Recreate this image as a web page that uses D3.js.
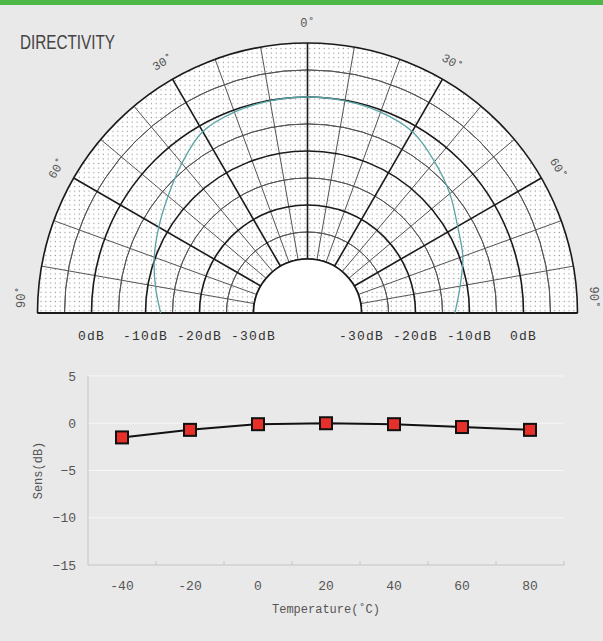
<!DOCTYPE html>
<html>
<head>
<meta charset="utf-8">
<script src="https://cdn.jsdelivr.net/npm/d3@7"></script>
<style>
  html, body { margin: 0; padding: 0; background: #e9e9e9; }
  svg { display: block; }
</style>
</head>
<body>
<svg id="chart" width="603" height="641"></svg>
<script>
// polar grid definition
var ringLevels = [-30, -20, -10, 0, 10],
    halfRingLevels = [-25, -15, -5, 5],
    dbLabels = ['0dB', '-10dB', '-20dB', '-30dB'],
    dbLabelLevels = [0, -10, -20, -30],
    angleLabels = [-90, -60, -30, 0, 30, 60, 90];

// directivity pattern (angle in degrees, level in dB)
var patternAngles = [-90, -80, -70, -60, -50, -40, -30, -20, -10, 0, 10, 20, 30, 40, 50, 60, 70, 80, 90],
    patternLevels = [-12.8, -11.4, -9.8, -8.2, -6.3, -3.8, -1.2, -0.4, -0.1, 0, -0.1, -0.4, -1.2, -3.4, -5.6, -7.9, -9.4, -11.3, -12.7];

// temperature characteristics
var temps = ['-40', '-20', '0', '20', '40', '60', '80'],
    sens = [-1.5, -0.7, -0.1, 0, -0.1, -0.4, -0.7],
    sensTicks = [5, 0, -5, -10, -15];

var svg = d3.select('#chart');

// green strip + title
svg.append('rect')
    .attr('x', 0).attr('y', 0)
    .attr('width', 603).attr('height', 5)
    .attr('fill', '#4db848');

svg.append('text')
    .attr('x', 20).attr('y', 49)
    .attr('font-family', '"Liberation Sans Narrow", "Liberation Sans", sans-serif')
    .attr('font-size', 20)
    .attr('fill', '#444')
    .attr('textLength', 95)
    .attr('lengthAdjust', 'spacingAndGlyphs')
    .text('DIRECTIVITY');

/*
 * Polar chart
 */
var cx = 307.5, cy = 313;
var rScale = d3.scaleLinear().domain([-30, 10]).range([54, 270]);
var rad = function(a) { return a * Math.PI / 180; };

var defs = svg.append('defs');
var pat = defs.append('pattern')
    .attr('id', 'dots')
    .attr('patternUnits', 'userSpaceOnUse')
    .attr('width', 4.8).attr('height', 4.6);
pat.append('rect')
    .attr('x', 1.7).attr('y', 1.7)
    .attr('width', 1.2).attr('height', 1.2)
    .attr('fill', '#9a9a9a');

var polar = svg.append('g').attr('transform', 'translate(' + cx + ',' + cy + ')');

var band = d3.arc()
    .innerRadius(rScale(-30))
    .outerRadius(rScale(10))
    .startAngle(-Math.PI / 2)
    .endAngle(Math.PI / 2);

polar.append('path').attr('d', band).attr('fill', '#fff');
polar.append('path').attr('d', band).attr('fill', 'url(#dots)');

var halfCircle = function(r) {
    return d3.arc()
        .innerRadius(r).outerRadius(r)
        .startAngle(-Math.PI / 2).endAngle(Math.PI / 2)();
};

// thin rings
polar.selectAll('.half-ring').data(halfRingLevels).enter()
  .append('path')
    .attr('d', function(d) { return halfCircle(rScale(d)); })
    .attr('fill', 'none')
    .attr('stroke', '#555')
    .attr('stroke-width', 1);

// radial lines every 10 degrees, heavier every 30
var spokes = d3.range(-90, 91, 10);
polar.selectAll('.spoke').data(spokes).enter()
  .append('line')
    .attr('x1', function(d) { return rScale(-30) * Math.sin(rad(d)); })
    .attr('y1', function(d) { return -rScale(-30) * Math.cos(rad(d)); })
    .attr('x2', function(d) { return rScale(10) * Math.sin(rad(d)); })
    .attr('y2', function(d) { return -rScale(10) * Math.cos(rad(d)); })
    .attr('stroke', function(d) { return d % 30 === 0 ? '#1a1a1a' : '#555'; })
    .attr('stroke-width', function(d) { return d % 30 === 0 ? 1.6 : 1; });

// main rings
polar.selectAll('.ring').data(ringLevels).enter()
  .append('path')
    .attr('d', function(d) { return halfCircle(rScale(d)); })
    .attr('fill', 'none')
    .attr('stroke', '#1a1a1a')
    .attr('stroke-width', 1.6);

// white core
polar.append('path')
    .attr('d', d3.arc().innerRadius(0).outerRadius(rScale(-30))
        .startAngle(-Math.PI / 2).endAngle(Math.PI / 2)())
    .attr('fill', '#fff')
    .attr('stroke', '#1a1a1a')
    .attr('stroke-width', 1.6);

// baseline
polar.append('line')
    .attr('x1', -rScale(10)).attr('x2', rScale(10))
    .attr('y1', 0).attr('y2', 0)
    .attr('stroke', '#1a1a1a')
    .attr('stroke-width', 2);

// directivity pattern
var patternLine = d3.lineRadial()
    .angle(function(d) { return rad(d[0]); })
    .radius(function(d) { return rScale(d[1]); })
    .curve(d3.curveCatmullRom);

polar.append('path')
    .datum(d3.zip(patternAngles, patternLevels))
    .attr('d', patternLine)
    .attr('fill', 'none')
    .attr('stroke', '#5aa3a6')
    .attr('stroke-width', 1.3);

// angle labels
polar.selectAll('.angle-label').data(angleLabels).enter()
  .append('text')
    .attr('transform', function(d) {
        var a = Math.abs(d) === 90 ? d * 0.965 : d,
            r = Math.abs(d) === 90 ? 287 : 290;
        return 'translate(' + (r * Math.sin(rad(a))) + ',' + (-r * Math.cos(rad(a))) + ') rotate(' + d + ')';
    })
    .attr('text-anchor', 'middle')
    .attr('dy', '0.35em')
    .attr('font-family', '"Liberation Mono", monospace')
    .attr('font-size', 12)
    .attr('fill', '#555')
    .text(function(d) { return Math.abs(d) + '˚'; });

// dB labels under each ring, both sides
var dbData = [];
dbLabelLevels.forEach(function(v, i) {
    dbData.push({label: dbLabels[i], x: -rScale(v)});
    dbData.push({label: dbLabels[i], x: rScale(v)});
});
polar.selectAll('.db-label').data(dbData).enter()
  .append('text')
    .attr('x', function(d) { return d.x; })
    .attr('y', 27)
    .attr('text-anchor', 'middle')
    .attr('font-family', '"Liberation Mono", monospace')
    .attr('font-size', 13)
    .attr('letter-spacing', 1.2)
    .attr('fill', '#333')
    .text(function(d) { return d.label; });

/*
 * Temperature chart
 */
var xScale = d3.scaleBand().domain(temps).range([88, 564]),
    yScale = d3.scaleLinear().domain([-15, 5]).range([565, 376]);

var plot = svg.append('g');

// gridlines
plot.selectAll('.grid').data(sensTicks.filter(function(d) { return d !== -15; })).enter()
  .append('line')
    .attr('x1', 88).attr('x2', 564)
    .attr('y1', yScale).attr('y2', yScale)
    .attr('stroke', '#f6f6f6')
    .attr('stroke-width', 1);

// axes
plot.append('line')
    .attr('x1', 88).attr('x2', 88)
    .attr('y1', yScale(5)).attr('y2', yScale(-15))
    .attr('stroke', '#c4c4c4');
plot.append('line')
    .attr('x1', 88).attr('x2', 564)
    .attr('y1', yScale(-15)).attr('y2', yScale(-15))
    .attr('stroke', '#c4c4c4');

// x tick marks at category boundaries
var bounds = temps.map(function(d) { return xScale(d) + xScale.bandwidth(); });
plot.selectAll('.xtick').data(bounds).enter()
  .append('line')
    .attr('x1', function(d) { return d; }).attr('x2', function(d) { return d; })
    .attr('y1', yScale(-15)).attr('y2', yScale(-15) - 4)
    .attr('stroke', '#c4c4c4');

// tick labels
plot.selectAll('.ylabel').data(sensTicks).enter()
  .append('text')
    .attr('x', 76)
    .attr('y', yScale)
    .attr('dy', '0.35em')
    .attr('text-anchor', 'end')
    .attr('font-family', '"Liberation Mono", monospace')
    .attr('font-size', 13)
    .attr('fill', '#555')
    .text(function(d) { return d < 0 ? '\u2212' + Math.abs(d) : d; });

plot.selectAll('.xlabel').data(temps).enter()
  .append('text')
    .attr('x', function(d) { return xScale(d) + xScale.bandwidth() / 2; })
    .attr('y', 590)
    .attr('text-anchor', 'middle')
    .attr('font-family', '"Liberation Mono", monospace')
    .attr('font-size', 13)
    .attr('fill', '#555')
    .text(function(d) { return d; });

plot.append('text')
    .attr('transform', 'translate(42,' + yScale(-5) + ') rotate(-90)')
    .attr('text-anchor', 'middle')
    .attr('font-family', '"Liberation Mono", monospace')
    .attr('font-size', 12)
    .attr('fill', '#555')
    .text('Sens(dB)');

plot.append('text')
    .attr('x', 326).attr('y', 613)
    .attr('text-anchor', 'middle')
    .attr('font-family', '"Liberation Mono", monospace')
    .attr('font-size', 12)
    .attr('fill', '#555')
    .text('Temperature(˚C)');

// data line + markers
var pts = d3.zip(temps, sens);
plot.append('path')
    .datum(pts)
    .attr('d', d3.line()
        .x(function(d) { return xScale(d[0]) + xScale.bandwidth() / 2; })
        .y(function(d) { return yScale(d[1]); }))
    .attr('fill', 'none')
    .attr('stroke', '#111')
    .attr('stroke-width', 2);

plot.selectAll('.marker').data(pts).enter()
  .append('rect')
    .attr('x', function(d) { return xScale(d[0]) + xScale.bandwidth() / 2 - 6; })
    .attr('y', function(d) { return yScale(d[1]) - 6; })
    .attr('width', 12).attr('height', 12)
    .attr('fill', '#e8302b')
    .attr('stroke', '#111')
    .attr('stroke-width', 2);
</script>
</body>
</html>
